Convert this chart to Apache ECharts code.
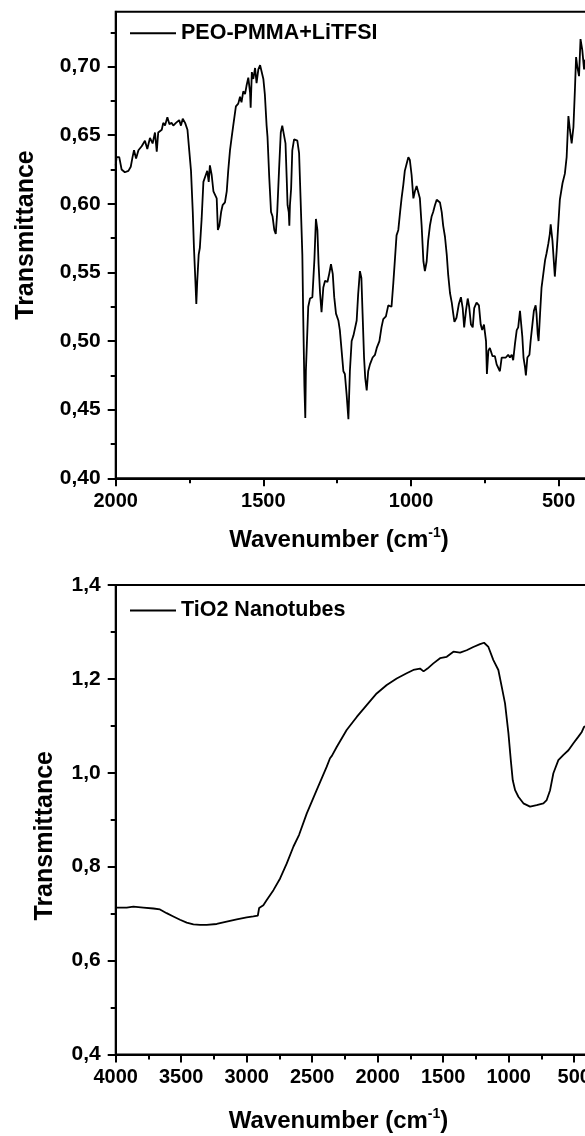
<!DOCTYPE html>
<html><head><meta charset="utf-8">
<script src="https://cdn.jsdelivr.net/npm/echarts@6/dist/echarts.min.js"></script>
<style>html,body{margin:0;padding:0;background:#fff}#c{width:585px;height:1136px}</style>
</head><body><div id="c"></div>
<script>
// ---- Top panel: PEO-PMMA+LiTFSI ----
const topWavenumber = [
2000,1997,1988,1980,1969,1957,1949,1943,1938,1931,1923,1912,1901,1893,1884,1875,1867,1861,1856,1844,
1839,1833,1825,1818,1811,1805,1796,1790,1785,1779,1773,1765,1757,1751,1745,1739,1735,1730,1727,1724,
1719,1715,1709,1703,1695,1690,1685,1681,1675,1669,1664,1658,1654,1649,1643,1638,1630,1624,1619,1613,
1607,1602,1593,1585,1579,1574,1568,1562,1557,1551,1545,1543,1539,1534,1528,1523,1517,1511,1506,1500,
1495,1489,1486,1480,1474,1469,1463,1458,1453,1447,1441,1436,1430,1425,1421,1418,1414,1412,1410,1406,
1402,1396,1391,1385,1379,1374,1368,1365,1361,1358,1356,1348,1342,1334,1327,1322,1317,1313,1308,1303,
1297,1291,1283,1277,1271,1265,1260,1254,1246,1241,1235,1229,1224,1218,1212,1207,1201,1195,1190,1184,
1179,1173,1168,1164,1159,1155,1150,1145,1139,1130,1122,1116,1107,1100,1094,1085,1077,1071,1066,1060,
1054,1049,1043,1037,1032,1026,1021,1015,1009,1004,998,992,987,981,975,970,964,958,953,947,
942,936,930,925,919,913,908,902,896,891,885,879,874,868,862,857,853,846,838,831,
825,820,814,808,803,797,791,786,778,770,764,759,753,746,743,738,733,724,716,710,
704,699,693,688,679,671,665,659,654,648,642,637,631,628,623,619,614,611,606,599,
595,589,584,578,575,571,568,563,558,552,546,541,535,530,527,521,513,507,496,487,
479,473,467,462,456,450,445,441,437,431,426,420,414,411,400
];
const topTransmittance = [
0.628,0.634,0.634,0.625,0.623,0.624,0.627,0.634,0.639,0.633,0.639,0.642,0.646,0.640,0.648,0.644,0.652,0.638,0.652,0.654,
0.659,0.657,0.663,0.658,0.659,0.657,0.659,0.658,0.661,0.657,0.662,0.659,0.654,0.639,0.624,0.594,0.568,0.543,0.527,0.543,
0.563,0.568,0.589,0.616,0.621,0.624,0.616,0.628,0.621,0.609,0.608,0.604,0.581,0.584,0.594,0.599,0.601,0.609,0.624,0.639,
0.649,0.657,0.671,0.673,0.678,0.674,0.682,0.680,0.686,0.692,0.681,0.670,0.696,0.691,0.699,0.688,0.698,0.701,0.702,0.691,
0.680,0.657,0.649,0.619,0.594,0.591,0.581,0.578,0.594,0.624,0.652,0.657,0.656,0.644,0.619,0.599,0.594,0.584,0.599,0.611,
0.639,0.647,0.648,0.646,0.637,0.604,0.563,0.518,0.467,0.444,0.478,0.525,0.531,0.532,0.560,0.589,0.581,0.556,0.535,0.521,
0.539,0.544,0.543,0.549,0.556,0.549,0.532,0.520,0.515,0.508,0.493,0.478,0.476,0.461,0.443,0.478,0.500,0.504,0.505,0.515,
0.534,0.551,0.546,0.520,0.488,0.473,0.464,0.478,0.483,0.488,0.490,0.495,0.500,0.510,0.516,0.518,0.526,0.527,0.525,0.542,
0.561,0.577,0.581,0.594,0.604,0.614,0.624,0.629,0.634,0.632,0.621,0.604,0.609,0.613,0.614,0.604,0.584,0.558,0.551,0.558,
0.573,0.584,0.591,0.594,0.599,0.603,0.604,0.601,0.594,0.584,0.576,0.563,0.548,0.535,0.528,0.520,0.514,0.517,0.527,0.532,
0.524,0.510,0.522,0.531,0.525,0.512,0.510,0.524,0.528,0.526,0.512,0.508,0.512,0.500,0.476,0.493,0.495,0.489,0.489,0.483,
0.484,0.478,0.488,0.487,0.488,0.490,0.488,0.490,0.486,0.498,0.508,0.510,0.522,0.515,0.503,0.488,0.481,0.475,0.488,0.490,
0.500,0.512,0.522,0.526,0.520,0.505,0.500,0.520,0.539,0.549,0.559,0.564,0.571,0.578,0.585,0.573,0.547,0.565,0.603,0.615,
0.622,0.634,0.664,0.654,0.644,0.656,0.683,0.707,0.700,0.693,0.720,0.712,0.698,0.705,0.700
];
// ---- Bottom panel: TiO2 Nanotubes ----
const botWavenumber = [
4000,3916,3865,3789,3712,3662,3611,3560,3509,3458,3407,3356,3305,3229,3153,3076,3000,2949,2935,2915,
2905,2873,2847,2796,2745,2694,2643,2600,2542,2466,2389,2364,2350,2313,2237,2160,2084,2008,1931,1855,
1779,1728,1677,1650,1639,1620,1575,1524,1473,1422,1371,1321,1270,1219,1188,1155,1117,1079,1053,1028,
1002,984,969,951,926,888,837,786,735,710,684,659,621,582,544,506,468,442,425,400
];
const botTransmittance = [
0.713,0.713,0.715,0.713,0.711,0.709,0.701,0.694,0.687,0.681,0.677,0.676,0.676,0.678,0.683,0.688,0.692,0.694,0.695,0.696,
0.712,0.718,0.729,0.750,0.775,0.807,0.843,0.868,0.913,0.963,1.013,1.031,1.036,1.055,1.091,1.119,1.144,1.169,1.187,1.201,
1.212,1.219,1.222,1.216,1.215,1.222,1.233,1.244,1.247,1.258,1.256,1.261,1.268,1.274,1.277,1.268,1.240,1.219,1.183,1.148,
1.084,1.027,0.984,0.963,0.949,0.935,0.928,0.931,0.935,0.942,0.963,0.999,1.027,1.038,1.048,1.063,1.077,1.087,1.098,1.100
];
// ---- Tick values ----
const topXTicks = [2000,1500,1000,500];
const topXMinor = [1750,1250,750];
const topYTicks = [0.40,0.45,0.50,0.55,0.60,0.65,0.70];
const topYMinor = [0.425,0.475,0.525,0.575,0.625,0.675,0.725];
const botXTicks = [4000,3500,3000,2500,2000,1500,1000,500];
const botXMinor = [3750,3250,2750,2250,1750,1250,750];
const botYTicks = [0.4,0.6,0.8,1.0,1.2,1.4];
const botYMinor = [0.5,0.7,0.9,1.1,1.3];
const seriesNames = ['PEO-PMMA+LiTFSI','TiO2 Nanotubes'];

const FF = '"Liberation Sans", Arial, Helvetica, sans-serif';
const BLACK = '#000';

function xMajor(gi, min, max, ticks, nameGap, pad){
  return {type:'value', gridIndex:gi, position:'bottom', inverse:true, min:min, max:max,
    axisLine:{show:true, onZero:false, lineStyle:{color:BLACK, width:2}},
    axisTick:{show:true, customValues:ticks, length:8, lineStyle:{color:BLACK, width:2}},
    axisLabel:{show:true, customValues:ticks, margin:13, color:BLACK, fontFamily:FF, fontWeight:'bold', fontSize:20,
      hideOverlap:false, formatter:function(v){return String(Math.round(v));}},
    splitLine:{show:false},
    name:'{a|Wavenumber (cm}{s|-1}{a|)}', nameLocation:'middle', nameGap:nameGap,
    nameTextStyle:{color:BLACK, fontFamily:FF, fontWeight:'bold', fontSize:24, padding:pad,
      rich:{a:{fontFamily:FF, fontWeight:'bold', fontSize:24, color:BLACK, lineHeight:28},
            s:{fontFamily:FF, fontWeight:'bold', fontSize:14, color:BLACK, verticalAlign:'top', lineHeight:14}}}
  };
}
function xMinor(gi, min, max, ticks){
  return {type:'value', gridIndex:gi, position:'bottom', inverse:true, min:min, max:max,
    axisLine:{show:false, onZero:false}, axisLabel:{show:false}, splitLine:{show:false},
    axisTick:{show:true, customValues:ticks, length:5, lineStyle:{color:BLACK, width:2}}};
}
function yMajor(gi, min, max, ticks, dec, nameGap, pad){
  return {type:'value', gridIndex:gi, position:'left', min:min, max:max,
    axisLine:{show:true, onZero:false, lineStyle:{color:BLACK, width:2}},
    axisTick:{show:true, customValues:ticks, length:8, lineStyle:{color:BLACK, width:2}},
    axisLabel:{show:true, customValues:ticks, margin:15, color:BLACK, fontFamily:FF, fontWeight:'bold', fontSize:21,
      hideOverlap:false, formatter:function(v){return v.toFixed(dec).replace('.', ',');}},
    splitLine:{show:false},
    name:'Transmittance', nameLocation:'middle', nameGap:nameGap,
    nameTextStyle:{color:BLACK, fontFamily:FF, fontWeight:'bold', fontSize:25, padding:pad}
  };
}
function yMinor(gi, min, max, ticks){
  return {type:'value', gridIndex:gi, position:'left', min:min, max:max,
    axisLine:{show:false, onZero:false}, axisLabel:{show:false}, splitLine:{show:false},
    axisTick:{show:true, customValues:ticks, length:5, lineStyle:{color:BLACK, width:2}}};
}

const chart = echarts.init(document.getElementById('c'), null, {renderer:'canvas', width:585, height:1136});
chart.setOption({
  animation:false,
  backgroundColor:'#fff',
  grid:[
    {left:115.7, top:11.7, width:472.5, height:466.6, show:true, borderColor:BLACK, borderWidth:2, backgroundColor:'transparent', containLabel:false, outerBoundsMode:'none'},
    {left:115.7, top:585, width:471.6, height:469.5, show:true, borderColor:BLACK, borderWidth:2, backgroundColor:'transparent', containLabel:false, outerBoundsMode:'none'}
  ],
  xAxis:[
    xMajor(0, 400, 2000, topXTicks, 48, [0,26,0,0]),
    xMinor(0, 400, 2000, topXMinor),
    xMajor(1, 400, 4000, botXTicks, 53, [0,26,0,0]),
    xMinor(1, 400, 4000, botXMinor)
  ],
  yAxis:[
    yMajor(0, 0.40, 0.74, topYTicks, 2, 77, [0,0,0,20]),
    yMinor(0, 0.40, 0.74, topYMinor),
    yMajor(1, 0.4, 1.4, botYTicks, 1, 58, [0,32,0,0]),
    yMinor(1, 0.4, 1.4, botYMinor)
  ],
  legend:[
    {data:[seriesNames[0]], left:130, top:22.2, padding:0, icon:'rect', itemWidth:46, itemHeight:2, itemGap:0,
      textStyle:{color:BLACK, fontFamily:FF, fontWeight:'bold', fontSize:21.5, lineHeight:21}},
    {data:[seriesNames[1]], left:130, top:599.5, padding:0, icon:'rect', itemWidth:46, itemHeight:2, itemGap:0,
      textStyle:{color:BLACK, fontFamily:FF, fontWeight:'bold', fontSize:21.5, lineHeight:21}}
  ],
  series:[
    {name:seriesNames[0], type:'line', xAxisIndex:0, yAxisIndex:0, showSymbol:false, symbol:'none', silent:true,
      color:BLACK, lineStyle:{color:BLACK, width:1.8},
      data:topWavenumber.map(function(w,i){return [w, topTransmittance[i]];})},
    {name:seriesNames[1], type:'line', xAxisIndex:2, yAxisIndex:2, showSymbol:false, symbol:'none', silent:true,
      color:BLACK, lineStyle:{color:BLACK, width:1.8},
      data:botWavenumber.map(function(w,i){return [w, botTransmittance[i]];})}
  ]
});
</script>
</body></html>
